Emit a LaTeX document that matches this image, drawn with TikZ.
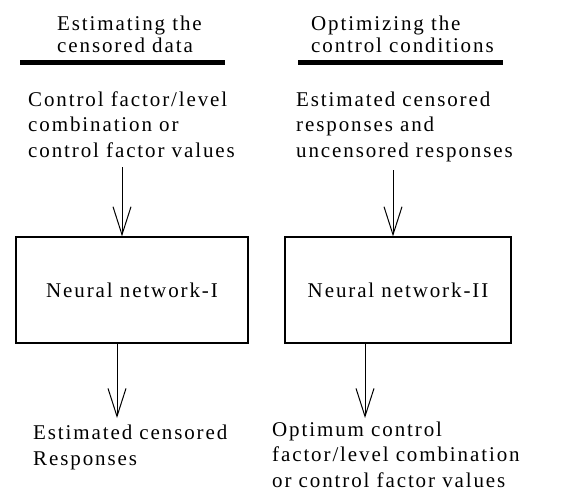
\documentclass[tikz,border=0pt]{standalone}
\usepackage{fontspec}
\setmainfont{Liberation Serif}[LetterSpace=9]
\usetikzlibrary{arrows.meta}
\begin{document}
\begin{tikzpicture}[x=1pt,y=-1pt,
  txt/.style={font=\fontsize{21}{25.5}\selectfont, align=left, inner sep=0pt, anchor=base west},
  head/.style={font=\fontsize{21}{22.5}\selectfont, align=left, inner sep=0pt, anchor=base west},
  nnbox/.style={draw, line width=1.3pt, inner sep=0pt, font=\fontsize{21}{25}\selectfont},
  flow/.style={draw, line width=1pt, -{Straight Barb[length=28pt,width=18pt,line width=1pt]}},
  rulebar/.style={line width=4.5pt}]
\useasboundingbox (0,0) rectangle (561,492);

% headings (anchored at the baseline of their last line)
\node[head] (hL) at (57,53) {Estimating the\\censored data};
\node[head] (hR) at (311,53) {Optimizing the\\control conditions};
\coordinate (rL1) at (20,62.5);
\coordinate (rL2) at (225,62.5);
\coordinate (rR1) at (298,62.5);
\coordinate (rR2) at (503,62.5);
\draw[rulebar] (rL1) -- (rL2);
\draw[rulebar] (rR1) -- (rR2);

% inputs
\node[txt] (inL) at (28,157) {Control factor/level\\combination or\\control factor values};
\node[txt] (inR) at (296,157) {Estimated censored\\responses and\\uncensored responses};

% boxes
\node[nnbox, minimum width=232pt, minimum height=106pt] (boxL) at (132,290) {Neural network-I};
\node[nnbox, minimum width=226pt, minimum height=106pt] (boxR) at (398,290) {Neural network-II};

% outputs
\node[txt] (outL) at (33,465) {Estimated censored\\Responses};
\node[txt] (outR) at (272,487) {Optimum control\\factor/level combination\\or control factor values};

% connectors
\coordinate (aL) at (122,167);
\coordinate (aR) at (393,170);
\coordinate (bL) at (117,418);
\coordinate (bR) at (365,418);
\draw[flow] (aL) -- (aL |- boxL.north);
\draw[flow] (aR) -- (aR |- boxR.north);
\draw[flow] (boxL.south -| bL) -- (bL);
\draw[flow] (boxR.south -| bR) -- (bR);
\end{tikzpicture}
\end{document}
